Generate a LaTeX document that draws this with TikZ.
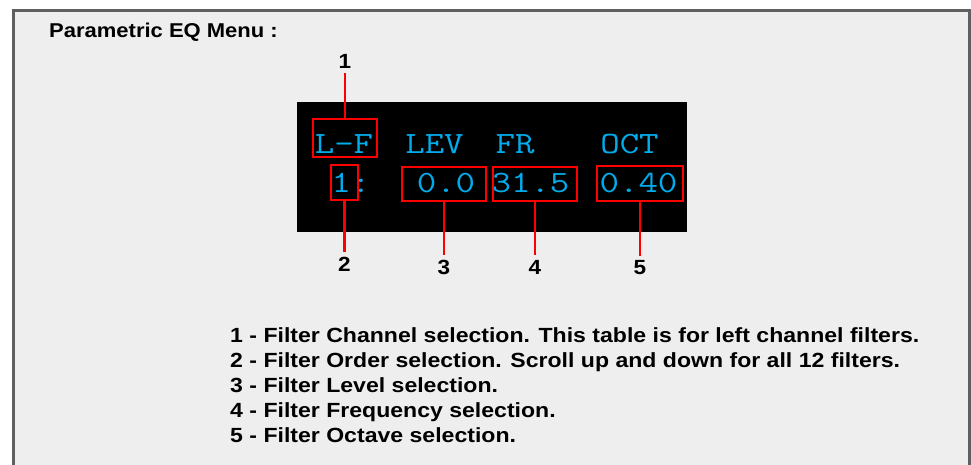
\documentclass[tikz,border=0pt]{standalone}
\usepackage{fontspec}
\newfontfamily\lblfont{Liberation Sans Bold}[FakeStretch=1.1]
\newfontfamily\legfont{Liberation Sans Bold}[FakeStretch=1.125]
\newfontfamily\lcdfont{Latin Modern Mono}[FakeStretch=1.22]
\definecolor{lcdcyan}{RGB}{0,172,235}
\definecolor{framegray}{RGB}{95,95,95}
\definecolor{paneback}{RGB}{238,238,238}
\begin{document}
\begin{tikzpicture}[x=1pt,y=-1pt,line join=miter,
	selbox/.style={draw=red,line width=2.8pt,inner sep=0pt},
	lcdtext/.style={text=lcdcyan,inner sep=0pt,anchor=base,font=\lcdfont\fontsize{31}{31}\selectfont},
	numlbl/.style={inner sep=5pt,font=\lblfont\fontsize{20.5}{20.5}\selectfont},
	lead/.style={red,line width=2.8pt}]
		\useasboundingbox (0,0) rectangle (971,465);
		\fill[white] (0,0) rectangle (971,465);
		\fill[paneback] (13,11) rectangle (969,470);
		\draw[framegray,line width=3pt] (13,470)--(13,11)--(969.5,11)--(969.5,470);
		\node[anchor=base west,inner sep=0pt,font=\lblfont\fontsize{20}{20}\selectfont] (title) at (49,38) {Parametric EQ Menu :};
		% display
		\node[fill=black,minimum width=390pt,minimum height=130pt,inner sep=0pt] (panel) at (492,167) {};
		\node[lcdtext] (lf) at (344,154) {L-F};
		\node[lcdtext] (lev) at (434.5,154) {LEV};
		\node[lcdtext] (fr) at (515,154) {FR};
		\node[lcdtext] (oct) at (629.5,154) {OCT};
		\node[lcdtext] (ord) at (351,193) {1:};
		\node[lcdtext] (lvl) at (446,193) {0.0};
		\node[lcdtext] (frq) at (530.5,193) {31.5};
		\node[lcdtext] (octv) at (638.5,193) {0.40};
		% selection boxes
		\node[selbox,minimum width=64pt,minimum height=38pt] (b1) at (345,138) {};
		\node[selbox,minimum width=27pt,minimum height=35pt] (b2) at (344.5,182.5) {};
		\node[selbox,minimum width=84pt,minimum height=34pt] (b3) at (444,184) {};
		\node[selbox,minimum width=84pt,minimum height=34pt] (b4) at (535,184) {};
		\node[selbox,minimum width=86pt,minimum height=35pt] (b5) at (640,183.5) {};
		% numbers
		\node[numlbl] (n1) at (345,61) {1};
		\node[numlbl] (n2) at (344.5,264) {2};
		\node[numlbl] (n3) at (444,267) {3};
		\node[numlbl] (n4) at (535,267) {4};
		\node[numlbl] (n5) at (640,268) {5};
		\draw[lead] (b1.north)--(n1.south);
		\draw[lead] (b2.south)--(n2.north);
		\draw[lead] (b3.south)--(n3.north);
		\draw[lead] (b4.south)--(n4.north);
		\draw[lead] (b5.south)--(n5.north);
		% legend
		\foreach \i/\txt in {1/Filter Channel selection. This table is for left channel filters.,
			2/Filter Order selection. Scroll up and down for all 12 filters.,
			3/Filter Level selection.,
			4/Filter Frequency selection.,
			5/Filter Octave selection.}
		\node[anchor=base west,inner sep=0pt,font=\legfont\fontsize{20.5}{20.5}\selectfont] (leg\i) at (230,317+25*\i) {\i\ - \txt};
\end{tikzpicture}
\end{document}
